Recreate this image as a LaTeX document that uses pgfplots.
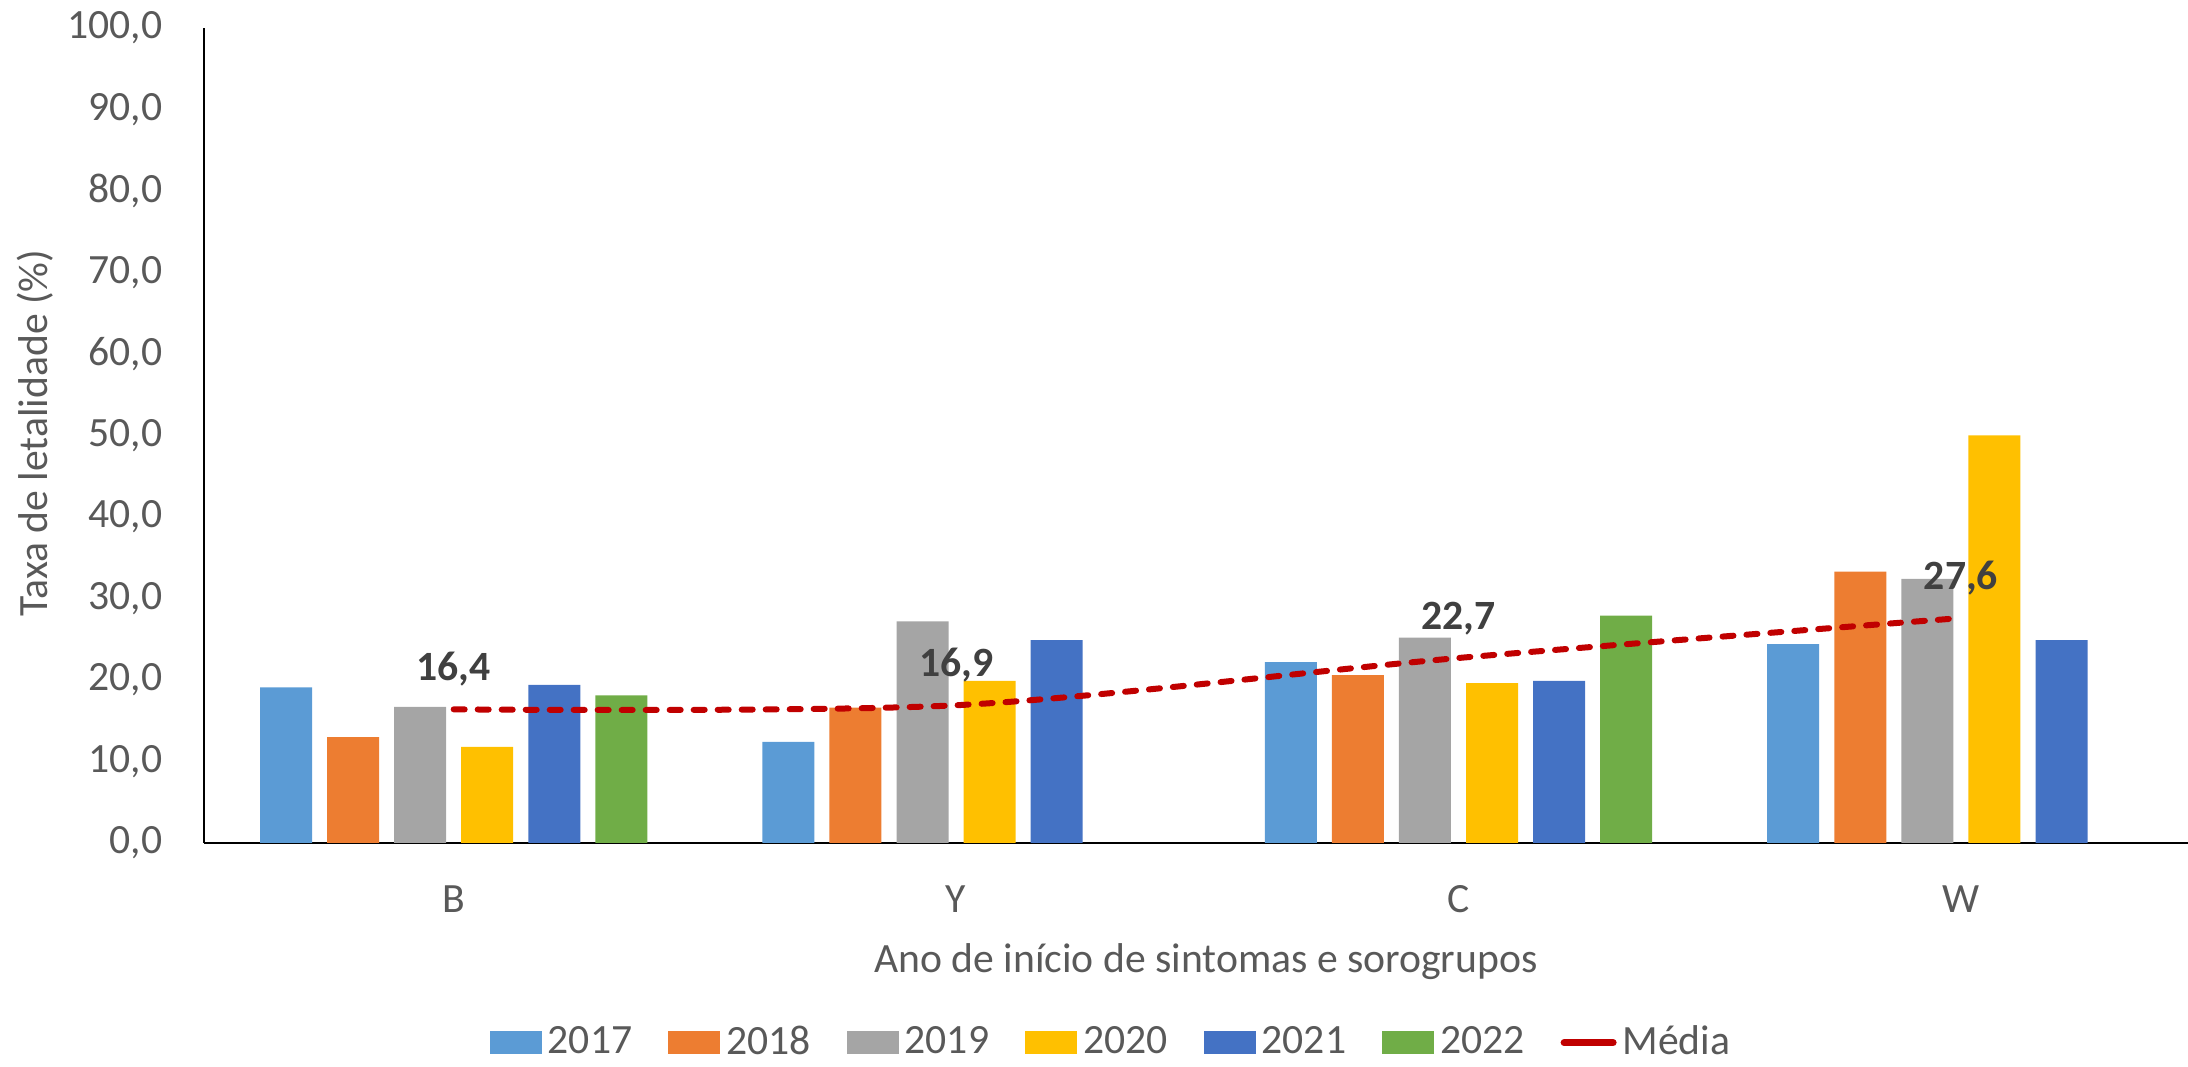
\documentclass[border=0pt]{standalone}
\usepackage{pgfplots}
\pgfplotsset{compat=1.18}
\usepackage{fontspec}
\setmainfont{Carlito}
\usetikzlibrary{calc}
\definecolor{c17}{HTML}{5B9BD5}
\definecolor{c18}{HTML}{ED7D31}
\definecolor{c19}{HTML}{A5A5A5}
\definecolor{c20}{HTML}{FFC000}
\definecolor{c21}{HTML}{4472C4}
\definecolor{c22}{HTML}{70AD47}
\definecolor{mred}{HTML}{C00000}
\definecolor{tcol}{HTML}{595959}
\definecolor{lcol}{HTML}{404040}
\newcommand{\ff}{\fontsize{12.5}{15}\selectfont}
\begin{document}
\begin{tikzpicture}
\begin{axis}[name=ax, width=595.2pt, height=244.5pt, scale only axis,
  xmin=-0.497, xmax=3.452, ymin=0, ymax=100,
  axis x line=bottom, axis y line=left,
  axis line style={-, black, line width=0.6pt},
  xtick={0,1,2,3}, xticklabels={B,Y,C,W},
  ytick={0,10,...,100},
  major tick length=0pt,
  tick label style={font=\ff, text=tcol},
  yticklabel style={anchor=east, inner sep=0pt, xshift=-12.3pt},
  xticklabel style={anchor=north, inner sep=0pt, yshift=-12.6pt},
  /pgf/number format/fixed, /pgf/number format/fixed zerofill,
  /pgf/number format/precision=1, /pgf/number format/use comma,
  /pgf/number format/assume math mode=true,
  legend columns=7,
  legend style={at={(0.4567,-0.245)}, anchor=center, draw=none, fill=none,
    font=\ff, text=tcol, inner sep=0pt, nodes={inner sep=0pt},
    /tikz/every odd column/.append style={column sep=1.8pt},
    /tikz/every even column/.append style={column sep=10.8pt}},
]
\addplot[ybar, bar width=0.1035, bar shift=-0.33375, fill=c17, draw=none,
  legend image code/.code={\fill[c17] (0pt,-3.45pt) rectangle (15.6pt,3.45pt);}]
  coordinates {(0,19.1) (1,12.4) (2,22.2) (3,24.4)};
\addlegendentry{2017}
\addplot[ybar, bar width=0.1035, bar shift=-0.20025, fill=c18, draw=none,
  legend image code/.code={\fill[c18] (0pt,-3.45pt) rectangle (15.6pt,3.45pt);}]
  coordinates {(0,13.0) (1,16.6) (2,20.6) (3,33.3)};
\addlegendentry{2018}
\addplot[ybar, bar width=0.1035, bar shift=-0.06675, fill=c19, draw=none,
  legend image code/.code={\fill[c19] (0pt,-3.45pt) rectangle (15.6pt,3.45pt);}]
  coordinates {(0,16.7) (1,27.2) (2,25.2) (3,32.4)};
\addlegendentry{2019}
\addplot[ybar, bar width=0.1035, bar shift=0.06675, fill=c20, draw=none,
  legend image code/.code={\fill[c20] (0pt,-3.45pt) rectangle (15.6pt,3.45pt);}]
  coordinates {(0,11.8) (1,19.9) (2,19.6) (3,50.0)};
\addlegendentry{2020}
\addplot[ybar, bar width=0.1035, bar shift=0.20025, fill=c21, draw=none,
  legend image code/.code={\fill[c21] (0pt,-3.45pt) rectangle (15.6pt,3.45pt);}]
  coordinates {(0,19.4) (1,24.9) (2,19.9) (3,24.9)};
\addlegendentry{2021}
\addplot[ybar, bar width=0.1035, bar shift=0.33375, fill=c22, draw=none,
  legend image code/.code={\fill[c22] (0pt,-3.45pt) rectangle (15.6pt,3.45pt);}]
  coordinates {(0,18.1) (2,27.9)};
\addlegendentry{2022}
\addplot[color=mred, line width=1.8pt, smooth, line cap=round,
  dash pattern=on 3.3pt off 3.9pt,
  nodes near coords, point meta=explicit symbolic,
  nodes near coords style={font=\ff\bfseries, text=lcol, anchor=base,
    inner sep=0pt, yshift=8.5pt, solid},
  legend image code/.code={\draw[mred, line width=2.1pt, line cap=round, solid] (1.05pt,0pt) -- (15.75pt,0pt);}]
  coordinates {(0,16.4)[{16,4}] (1,16.9)[{16,9}] (2,22.7)[{22,7}] (3,27.6)[{27,6}]};
\addlegendentry{Média}
\end{axis}
\node[anchor=base, font=\ff, text=tcol] at ($(ax.south)+(3pt,-39pt)$) {Ano de início de sintomas e sorogrupos};
\node[rotate=90, font=\ff, text=tcol] at ($(ax.west)+(-50.7pt,0.75pt)$) {Taxa de letalidade (\%)};
\pgfresetboundingbox
\path ($(ax.south west)+(-61.2pt,-67.2pt)$) rectangle ($(ax.north east)+(0pt,8.4pt)$);
\end{tikzpicture}
\end{document}
